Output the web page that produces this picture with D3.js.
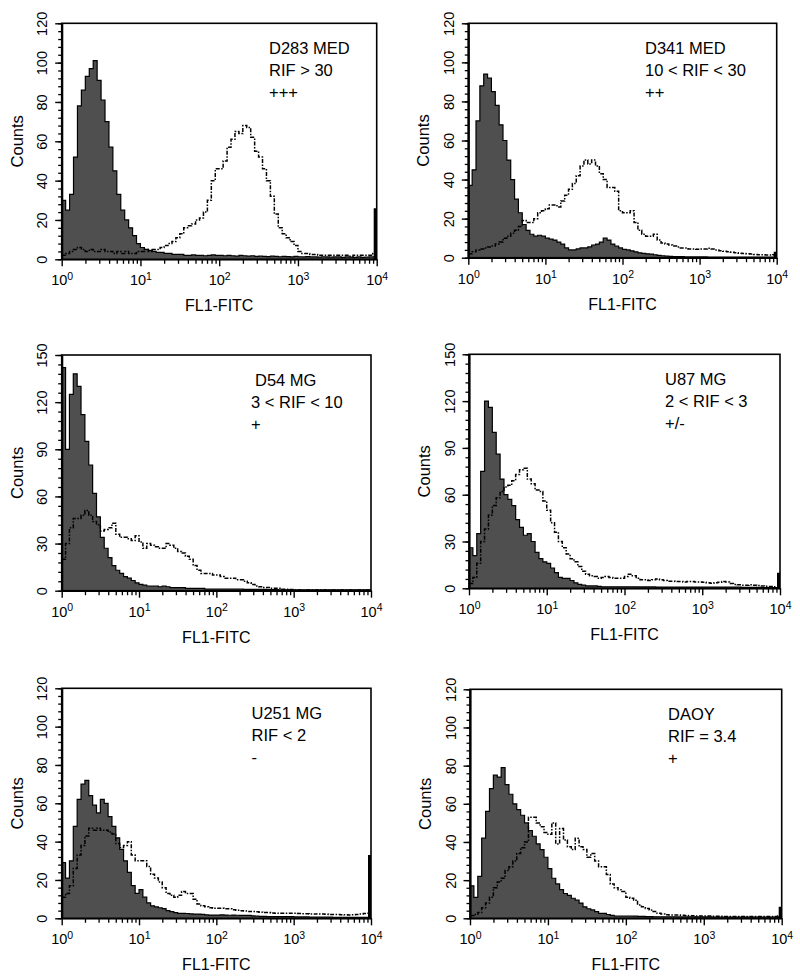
<!DOCTYPE html>
<html>
<head>
<meta charset="utf-8">
<script src="https://cdn.jsdelivr.net/npm/d3@7/dist/d3.min.js"></script>
<style>
  html, body { margin: 0; padding: 0; background: #fff; }
  svg { display: block; font-family: "Liberation Sans", Arial, Helvetica, sans-serif; }
</style>
</head>
<body>
<svg id="chart" width="800" height="979"></svg>
<script>
// ---------------- DATA ----------------
// Histogram channels: each value is the count of one channel, channels are 0.05 decade wide
// starting at 10^0 (80 channels up to 10^4).
const channelWidthDecades = 0.05;

const cellLines = ["D283 MED", "D341 MED", "D54 MG", "U87 MG", "U251 MG", "DAOY"];
const rifLabels = ["RIF > 30", "10 < RIF < 30", "3 < RIF < 10", "2 < RIF < 3", "RIF < 2", "RIF = 3.4"];
const scoreLabels = ["+++", "++", "+", "+/-", "-", "+"];
const yMaxima = [120, 120, 150, 150, 120, 120];
const yMajorTicks120 = [0, 20, 40, 60, 80, 100, 120];
const yMajorTicks150 = [0, 30, 60, 90, 120, 150];
const xDecadeExponents = [0, 1, 2, 3, 4];
// counts piled up in the very last channel (10^4) of the control histogram
const lastChannelControl = [26, 3, 0, 10, 33, 6];

const d283Control = [30, 25, 33, 52, 78, 86, 93, 97, 101, 91,
  81, 70, 57, 45, 33, 25, 20, 16, 12, 8,
  6, 5, 4.5, 4, 3.5, 3.5, 3, 3, 2.5, 2.5,
  2.5, 2, 2, 2.2, 2, 2, 1.8, 2, 2.2, 2,
  2, 1.8, 2, 1.8, 1.6, 2, 1.8, 1.6, 1.8, 1.5,
  1.6, 1.5, 1.4, 1.6, 1.5, 1.3, 1.5, 1.4, 1.2, 1.5,
  1.3, 1.2, 1.4, 1.2, 1.2, 1.1, 1.3, 1.2, 1.1, 1.2,
  1.2, 1, 1.2, 1.1, 1, 1.2, 1, 1.1, 1.2, 1.3];
const d283Stained = [2, 3, 4, 5, 6, 5, 4, 5, 4, 4,
  5, 4, 4, 3, 4, 3, 4, 3, 3, 4,
  4, 5, 4, 5, 5, 6, 7, 8, 9, 11,
  13, 16, 17, 18, 20, 21, 24, 30, 40, 46,
  46, 50, 57, 61, 65, 64, 68, 67, 62, 55,
  52, 46, 40, 32, 23, 16, 13, 11, 9, 7,
  4, 3, 3, 2.5, 2.5, 2, 2, 2, 2, 2,
  2, 2, 2, 1.5, 2, 2, 2, 2, 2, 3];

const d341Control = [37, 45, 70, 88, 94, 92, 85, 78, 68, 60,
  50, 40, 30, 23, 17, 14, 12, 11, 11.5, 11,
  10, 9.5, 9, 8, 7, 5, 4, 4, 4.5, 5,
  5, 5.5, 6.5, 7, 8, 10, 9, 7, 6, 5,
  4.3, 4, 3.5, 3, 2.5, 2.2, 2, 1.8, 1.5, 1.2,
  1, 0.8, 0.7, 0.6, 0.5, 0.5, 0.4, 0.4, 0.4, 0.4,
  0.4, 0.4, 0.3, 0.3, 0.3, 0.3, 0.3, 0.3, 0.3, 0.3,
  0.3, 0.3, 0.3, 0.3, 0.3, 0.3, 0.3, 0.3, 0.3, 0.3];
const d341Stained = [2, 3, 4, 4.5, 5, 5.5, 6, 7, 8, 10,
  11, 12.5, 14, 16, 19, 18, 18, 20, 23, 24,
  25, 27, 27, 26, 29, 32, 35, 38, 42, 47,
  50, 48, 50, 47, 43, 40, 36, 36, 34, 24,
  23, 23, 24, 18, 14, 12, 11, 11, 12, 9,
  7.5, 7, 6.5, 6, 5.5, 5, 5, 4.5, 4.5, 4.3,
  4.5, 4.5, 4.8, 4.5, 4, 3.6, 3.3, 3, 2.8, 2.5,
  2.3, 2.1, 2, 1.9, 1.7, 1.5, 1.5, 1.4, 1.4, 1.5];

const d54Control = [142, 90, 125, 138, 130, 112, 95, 80, 62, 47,
  34, 27, 21, 16, 13, 11, 9, 8, 6.5, 5,
  4, 3.5, 3, 3, 3, 2.5, 3, 2.5, 2, 2,
  2, 2, 1.5, 1.5, 1.5, 1.5, 1.5, 1, 1, 1,
  1, 1, 1, 1, 1, 1, 1, 0.8, 0.8, 0.8,
  0.8, 0.8, 0.8, 0.7, 0.7, 0.7, 0.6, 0.6, 0.6, 0.6,
  0.5, 0.5, 0.5, 0.5, 0.5, 0.5, 0.5, 0.5, 0.5, 0.5,
  0.5, 0.5, 0.5, 0.5, 0.5, 0.5, 0.5, 0.5, 0.5, 0.5];
const d54Stained = [20, 30, 40, 46, 46, 48, 51, 48, 44, 42,
  38, 39, 40, 43, 36, 34, 34, 33, 32, 35,
  31, 27, 30, 29, 28, 27, 27, 30, 29, 27,
  25, 24, 22, 20, 16, 13, 11, 11, 11, 10,
  10, 9, 8, 8, 8, 7, 7, 6, 5, 4,
  3, 2.5, 2, 2, 1.5, 1.5, 1.5, 1, 1, 0.8,
  0.5, 0.5, 0.5, 0.5, 0.5, 0.5, 0.5, 0.5, 0.5, 0.5,
  0.5, 0.5, 0.5, 0.5, 0.5, 0.5, 0.5, 0.5, 0.5, 0.5];

const u87Control = [26, 21, 35, 75, 120, 116, 100, 86, 70, 60,
  57, 53, 44, 39, 34, 35, 30, 23, 19, 17,
  16, 13, 10, 7, 6.4, 6.4, 5, 3.5, 2.5, 2,
  1.5, 1.5, 1.5, 1.2, 1, 1, 1, 1, 1, 1,
  1, 1, 1, 0.9, 0.9, 0.9, 0.9, 0.9, 0.8, 0.8,
  0.8, 0.8, 0.8, 0.8, 0.8, 0.8, 0.8, 0.8, 0.8, 0.8,
  0.7, 0.7, 0.7, 0.7, 0.7, 0.7, 0.7, 0.7, 0.7, 0.7,
  0.6, 0.6, 0.6, 0.6, 0.6, 0.5, 0.5, 0.5, 0.5, 0.5];
const u87Stained = [3, 7, 16, 30, 38, 47, 53, 58, 62, 65,
  66, 69, 73, 76, 77, 70, 67, 63, 62, 56,
  50, 42, 36, 30, 26, 22, 19, 17, 14, 11,
  9, 8, 7.5, 6.5, 7, 7.5, 7, 6.5, 6.5, 6.5,
  7.5, 9, 8, 6.5, 5.5, 5.5, 5, 5.5, 6, 5.5,
  5, 4.5, 4.5, 4.3, 4.3, 4, 4.3, 4.3, 4, 4,
  3.8, 3.5, 3.2, 3.5, 3.8, 4.3, 4, 3, 2.5, 2.2,
  2, 2, 2.2, 2, 1.8, 1.5, 1.3, 1.2, 1, 1];

const u251Control = [29, 21, 30, 48, 62, 70, 72, 64, 59, 55,
  62, 60, 53, 48, 42, 36, 30, 24, 17, 13,
  15, 11, 8, 6.5, 6, 5.5, 5, 4, 3.5, 3,
  2.6, 2.6, 2.5, 2.3, 2.2, 2.2, 2, 1.8, 1.7, 1.7,
  1.7, 1.8, 1.7, 1.6, 1.7, 1.6, 1.5, 1.5, 1.5, 1.3,
  1.2, 1, 1, 0.9, 0.9, 0.9, 0.9, 0.9, 0.9, 0.9,
  0.7, 0.7, 0.7, 0.7, 0.6, 0.6, 0.6, 0.6, 0.6, 0.6,
  0.5, 0.5, 0.5, 0.5, 0.5, 0.5, 0.5, 0.5, 0.5, 0.5];
const u251Stained = [11, 13, 17, 26, 33, 38, 43, 47, 46, 47,
  46, 46, 45, 44, 39, 37, 38, 40, 33, 30,
  30, 30, 27, 23, 21, 19, 16, 13, 12, 11,
  12, 14, 13, 13, 10, 7.5, 6.5, 6, 5.5, 5.2,
  5.2, 5.2, 5, 5, 4.5, 4.2, 4, 3.8, 3.6, 3.5,
  3.4, 3.2, 3, 3, 2.8, 2.7, 2.6, 2.6, 2.6, 2.6,
  2.6, 2.5, 2.4, 2.4, 2.3, 2.3, 2.2, 2.2, 2.1, 2,
  2, 2, 1.9, 1.8, 1.7, 1.8, 2, 2.2, 2.5, 2.6];

const daoyControl = [17, 11, 22, 42, 56, 68, 75, 74, 79, 70,
  65, 60, 57, 54, 50, 46, 43, 39, 36, 32,
  26, 21, 18, 15, 13, 12, 10.5, 9.5, 8, 6,
  5, 4.4, 3.5, 2.6, 2.6, 2, 1.5, 1.2, 1.2, 1.2,
  1.2, 1.2, 1.1, 1, 1, 0.9, 0.9, 0.8, 0.8, 0.8,
  0.8, 0.8, 0.8, 0.7, 0.7, 0.7, 0.7, 0.7, 0.7, 0.7,
  0.7, 0.7, 0.6, 0.6, 0.6, 0.6, 0.6, 0.6, 0.6, 0.6,
  0.6, 0.6, 0.6, 0.6, 0.6, 0.6, 0.6, 0.6, 0.6, 0.6];
const daoyStained = [1.5, 2, 3, 5.5, 8, 11, 16, 19, 21, 25,
  27, 30, 34, 37, 40, 53, 53, 50, 48, 45,
  44, 50, 39, 47, 41, 37.5, 36, 42, 37.5, 36,
  32, 34, 30, 27, 27, 23, 18, 16, 15, 14,
  11, 10.5, 9.5, 7, 6, 5.2, 4.3, 3.5, 2.6, 2.2,
  1.8, 1.7, 1.7, 1.7, 1.6, 1.5, 1.4, 1.3, 1.2, 1.2,
  1.2, 1.2, 1.1, 1.1, 1.1, 1, 1, 1, 1, 1,
  1, 0.9, 0.9, 0.9, 0.9, 0.9, 0.9, 0.9, 1, 1.2];

const controlSeries = [d283Control, d341Control, d54Control, u87Control, u251Control, daoyControl];
const stainedSeries = [d283Stained, d341Stained, d54Stained, u87Stained, u251Stained, daoyStained];

// ---------------- LAYOUT (positions / styles) ----------------
const layouts = [
  {x0: 61.7, x1: 376.7, yTop: 23.3, yBot: 259.3, textX: 269, indent: 0},
  {x0: 468.3, x1: 776.7, yTop: 23.3, yBot: 257.7, textX: 645, indent: 0},
  {x0: 61.7, x1: 371, yTop: 355, yBot: 590.7, textX: 251, indent: 4},
  {x0: 469, x1: 780, yTop: 354.3, yBot: 588.3, textX: 665, indent: 0},
  {x0: 61.7, x1: 371, yTop: 688.3, yBot: 918.3, textX: 251.5, indent: 0},
  {x0: 470, x1: 781.7, yTop: 689.3, yBot: 918.3, textX: 668, indent: 0}
];
const fillGray = "#4f4f4f";
const tickFont = "14.5px";

const svg = d3.select("#chart");

function channelPoints(counts) {
  const pts = counts.map((c, i) => ({v: Math.pow(10, i * channelWidthDecades), c}));
  pts.push({v: 1e4, c: counts[counts.length - 1]});
  return pts;
}

layouts.forEach((L, p) => {
  const ymax = yMaxima[p];
  const majors = ymax === 150 ? yMajorTicks150 : yMajorTicks120;
  const x = d3.scaleLog().domain([1, 1e4]).range([L.x0, L.x1]);
  const y = d3.scaleLinear().domain([0, ymax]).range([L.yBot, L.yTop]);
  const g = svg.append("g");

  const clipId = "clip" + p;
  g.append("clipPath").attr("id", clipId).append("rect")
    .attr("x", L.x0).attr("y", L.yTop).attr("width", L.x1 - L.x0).attr("height", L.yBot - L.yTop);

  const plot = g.append("g").attr("clip-path", `url(#${clipId})`);

  // control (filled) histogram
  const ctrl = channelPoints(controlSeries[p]);
  const area = d3.area().curve(d3.curveStepAfter)
    .x(d => x(d.v)).y0(y(0)).y1(d => y(d.c));
  plot.append("path").attr("d", area(ctrl)).attr("fill", fillGray).attr("stroke", "none");
  const outline = d3.line().curve(d3.curveStepAfter).x(d => x(d.v)).y(d => y(d.c));
  plot.append("path").attr("d", outline([{v: 1, c: 0}].concat(ctrl)))
    .attr("fill", "none").attr("stroke", "#000").attr("stroke-width", 1.2);

  // last channel pile-up at 10^4
  const lc = lastChannelControl[p];
  if (lc > 0) {
    plot.append("line").attr("x1", x(1e4) - 1.5).attr("x2", x(1e4) - 1.5)
      .attr("y1", y(0)).attr("y2", y(lc)).attr("stroke", "#000").attr("stroke-width", 3);
  }

  // stained (dash-dot) histogram
  const st = channelPoints(stainedSeries[p]);
  plot.append("path").attr("d", outline(st))
    .attr("fill", "none").attr("stroke", "#000").attr("stroke-width", 1.5)
    .attr("stroke-dasharray", "4,1.5,1.5,1.5");

  // frame
  g.append("rect").attr("x", L.x0).attr("y", L.yTop)
    .attr("width", L.x1 - L.x0).attr("height", L.yBot - L.yTop)
    .attr("fill", "none").attr("stroke", "#000").attr("stroke-width", 1.6);

  // y axis: minor ticks
  const minorStep = (majors[1] - majors[0]) / 5;
  const yMinor = d3.range(0, ymax + 0.001, minorStep);
  const gyMinor = g.append("g").attr("transform", `translate(${L.x0},0)`)
    .call(d3.axisLeft(y).tickValues(yMinor).tickSize(3.5).tickSizeOuter(0).tickFormat(() => ""));
  gyMinor.select(".domain").remove();
  gyMinor.selectAll(".tick line").attr("stroke-width", 1.3);

  const gy = g.append("g").attr("transform", `translate(${L.x0},0)`)
    .call(d3.axisLeft(y).tickValues(majors).tickSize(6.5).tickSizeOuter(0).tickFormat(d3.format("d")));
  gy.select(".domain").attr("stroke-width", 2.2);
  gy.selectAll(".tick line").attr("stroke-width", 1.4);
  gy.selectAll(".tick text")
    .attr("x", null).attr("y", null).attr("dy", null)
    .attr("transform", "translate(-14.4,0) rotate(-90)")
    .attr("text-anchor", "middle")
    .style("font-size", tickFont).style("font-family", "Liberation Sans, Arial, sans-serif")
    .attr("fill", "#000");

  // x axis: log minor ticks
  const xMinor = x.ticks().filter(v => Math.abs(Math.log10(v) - Math.round(Math.log10(v))) > 1e-6);
  const gxMinor = g.append("g").attr("transform", `translate(0,${L.yBot})`)
    .call(d3.axisBottom(x).tickValues(xMinor).tickSize(4.5).tickSizeOuter(0).tickFormat(() => ""));
  gxMinor.select(".domain").remove();
  gxMinor.selectAll(".tick line").attr("stroke-width", 1.3);

  const gx = g.append("g").attr("transform", `translate(0,${L.yBot})`)
    .call(d3.axisBottom(x).tickValues(xDecadeExponents.map(e => Math.pow(10, e)))
      .tickSize(7).tickSizeOuter(0).tickFormat(() => ""));
  gx.select(".domain").attr("stroke-width", 1.6);
  gx.selectAll(".tick line").attr("stroke-width", 1.4);
  gx.selectAll(".tick text").each(function(d) {
    const t = d3.select(this);
    t.attr("y", 26).attr("dy", null).attr("text-anchor", "middle")
      .style("font-size", tickFont).style("font-family", "Liberation Sans, Arial, sans-serif")
      .attr("fill", "#000");
    t.append("tspan").text("10");
    t.append("tspan").attr("dy", "-0.5em").style("font-size", "10.5px")
      .text(Math.round(Math.log10(d)));
  });

  // axis titles
  g.append("text").attr("x", (L.x0 + L.x1) / 2).attr("y", L.yBot + 52)
    .attr("text-anchor", "middle").style("font-size", "16px").text("FL1-FITC");
  g.append("text")
    .attr("transform", `translate(${L.x0 - 39},${(L.yTop + L.yBot) / 2}) rotate(-90)`)
    .attr("text-anchor", "middle").style("font-size", "16.5px").text("Counts");

  // annotation
  const ann = g.append("g").style("font-size", "16.5px");
  ann.append("text").attr("x", L.textX + L.indent).attr("y", L.yTop + 31).text(cellLines[p]);
  ann.append("text").attr("x", L.textX).attr("y", L.yTop + 53).text(rifLabels[p]);
  ann.append("text").attr("x", L.textX).attr("y", L.yTop + 75).text(scoreLabels[p]);
});
</script>
</body>
</html>
